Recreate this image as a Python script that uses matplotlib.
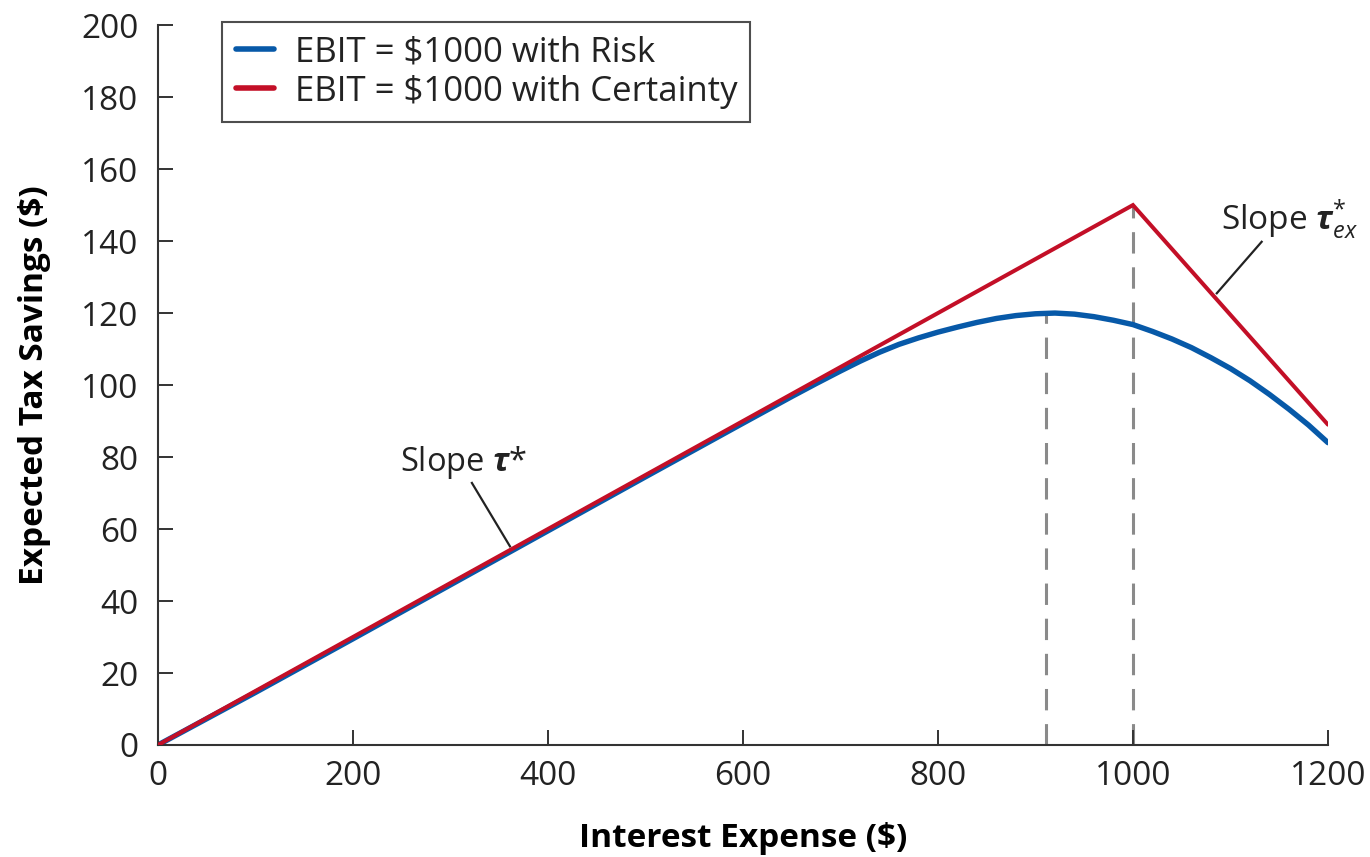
import matplotlib
matplotlib.use('Agg')
import matplotlib.pyplot as plt

plt.rcParams['font.family'] = ['Open Sans', 'DejaVu Sans']
plt.rcParams['mathtext.fontset'] = 'custom'
plt.rcParams['mathtext.rm'] = 'Open Sans'
plt.rcParams['mathtext.it'] = 'Open Sans:italic'
plt.rcParams['mathtext.bf'] = 'Open Sans:bold'
plt.rcParams['mathtext.bfit'] = 'Open Sans:bold:italic'

# ---- data ----
risk_x = [0, 100, 200, 300, 400, 500, 600, 650, 675, 700, 720, 740, 760, 780, 800, 820,
          840, 860, 880, 900, 920, 940, 960, 980, 1000, 1020, 1040, 1060, 1080, 1100,
          1120, 1140, 1160, 1180, 1200]
risk_y = [0, 14.6, 29.5, 44.5, 59.5, 74.5, 89.4, 96.8, 100.4, 103.9, 106.6, 109.1, 111.3,
          113.1, 114.7, 116.1, 117.4, 118.5, 119.3, 119.8, 120.0, 119.7, 119.0, 118.0,
          116.8, 114.9, 112.8, 110.4, 107.6, 104.6, 101.2, 97.4, 93.3, 88.9, 84.0]
cert_x = [0, 1000, 1200]
cert_y = [0, 150, 89]
vlines_x = [911, 1000]
vlines_top = [120, 150]

blue = '#0759a8'
red = '#c30f27'

fig = plt.figure(figsize=(13.7, 8.57), dpi=100)
ax = fig.add_axes([0.1153, 0.1307, 0.854, 0.840])

for vx, vt in zip(vlines_x, vlines_top):
    ax.plot([vx, vx], [0, vt], color='#8a8a8a', lw=2.2, dashes=(7, 4.5), zorder=1)

ax.plot(risk_x, risk_y, color=blue, lw=3.9, solid_capstyle='round', solid_joinstyle='round',
        label='EBIT = \\$1000 with Risk', zorder=2)
ax.plot(cert_x, cert_y, color=red, lw=2.9, solid_capstyle='round', solid_joinstyle='miter',
        label='EBIT = \\$1000 with Certainty', zorder=3)

# annotations
ax.plot([322, 361], [72.8, 55.2], color='#222222', lw=1.6, zorder=4)
ax.text(314, 78.5, r'Slope $\boldsymbol{\tau}$*', fontsize=23.5, color='#222222',
        ha='center', va='center')
ax.plot([1132, 1086], [139.8, 125.5], color='#222222', lw=1.6, zorder=4)
ax.text(1090, 146, r'Slope $\boldsymbol{\tau}^{*}_{ex}$', fontsize=24, color='#222222',
        ha='left', va='center')

ax.set_xlim(0, 1200)
ax.set_ylim(0, 200)
ax.set_xticks([0, 200, 400, 600, 800, 1000, 1200])
ax.set_yticks(range(0, 201, 20))
ax.tick_params(direction='in', length=11, width=1.4, color='#333333',
               labelsize=24, labelcolor='#222222', pad=11)
ax.tick_params(axis='y', pad=14)
for s in ['top', 'right']:
    ax.spines[s].set_visible(False)
for s in ['left', 'bottom']:
    ax.spines[s].set_linewidth(1.5)
    ax.spines[s].set_color('#333333')

ax.set_xlabel('Interest Expense (\\$)', fontsize=24, fontweight='bold', labelpad=21)
ax.set_ylabel('Expected Tax Savings (\\$)', fontsize=24, fontweight='bold', labelpad=22)

leg = ax.legend(loc='upper left', bbox_to_anchor=(0.055, 1.004), fontsize=25,
                frameon=True, fancybox=False, edgecolor='#222222', handlelength=1.1,
                handletextpad=0.6, borderpad=0.38, labelspacing=0.15, borderaxespad=0)
leg.get_frame().set_linewidth(1.5)
for line in leg.get_lines():
    line.set_linewidth(4)
for t in leg.get_texts():
    t.set_color('#222222')

fig.savefig('out.png', dpi=100)
